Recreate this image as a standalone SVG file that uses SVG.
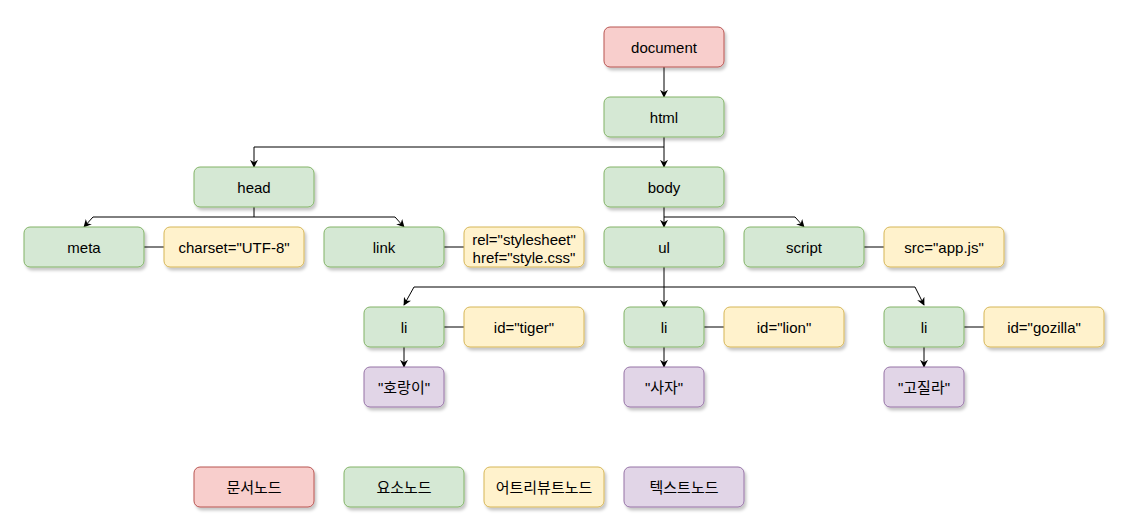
<svg xmlns="http://www.w3.org/2000/svg" width="1141" height="531" viewBox="0 0 1141 531">
<defs>
<filter id="sh" x="-10%" y="-10%" width="130%" height="140%">
<feDropShadow dx="2" dy="3" stdDeviation="1.5" flood-color="#000" flood-opacity="0.22"/>
</filter>
<marker id="ar" viewBox="0 0 10 10" refX="9" refY="5" markerWidth="8" markerHeight="8" orient="auto" markerUnits="userSpaceOnUse">
<path d="M0,0 L10,5 L0,10 L3,5 Z" fill="#000"/>
</marker>
</defs>
<style>
rect{stroke-width:1;filter:url(#sh)}
.d rect{fill:#f8cecc;stroke:#b85450}
.e rect{fill:#d5e8d4;stroke:#82b366}
.a rect{fill:#fff2cc;stroke:#d6b656}
.t rect{fill:#e1d5e7;stroke:#9673a6}
text{font-family:"Liberation Sans","Noto Sans CJK KR",Arial,sans-serif;font-size:15px;fill:#000;text-anchor:middle;dominant-baseline:central}
.c path{fill:none;stroke:#000;stroke-width:1}
.c .ar{marker-end:url(#ar)}
</style>
<g class="c" id="connectors">
<path class="ar" d="M664 67V97"/>
<path class="ar" d="M664 137V167"/>
<path class="ar" d="M664 147H254V167"/>
<path class="ar" d="M254 207V217H93L84 227"/>
<path class="ar" d="M254 217H395L404 227"/>
<path class="ar" d="M664 207V227"/>
<path class="ar" d="M664 217H795L804 227"/>
<path class="ar" d="M664 267V307"/>
<path class="ar" d="M664 287H414L404 305"/>
<path class="ar" d="M664 287H915L924 305"/>
<path class="ar" d="M404 347V367"/>
<path class="ar" d="M664 347V367"/>
<path class="ar" d="M924 347V367"/>
<path d="M144 247H164"/>
<path d="M444 247H464"/>
<path d="M864 247H884"/>
<path d="M444 327H464"/>
<path d="M704 327H724"/>
<path d="M964 327H984"/>
</g>
<g id="document" class="d"><rect x="604" y="27" width="120" height="40" rx="6"/><text x="664" y="47">document</text></g>
<g id="html" class="e"><rect x="604" y="97" width="120" height="40" rx="6"/><text x="664" y="117">html</text></g>
<g id="head" class="e"><rect x="194" y="167" width="120" height="40" rx="6"/><text x="254" y="187">head</text></g>
<g id="body" class="e"><rect x="604" y="167" width="120" height="40" rx="6"/><text x="664" y="187">body</text></g>
<g id="meta" class="e"><rect x="24" y="227" width="120" height="40" rx="6"/><text x="84" y="247">meta</text></g>
<g id="charset" class="a"><rect x="164" y="227" width="140" height="40" rx="6"/><text x="234" y="247">charset="UTF-8"</text></g>
<g id="link" class="e"><rect x="324" y="227" width="120" height="40" rx="6"/><text x="384" y="247">link</text></g>
<g id="linkattr" class="a"><rect x="464" y="227" width="120" height="40" rx="6"/><text x="524" y="239">rel="stylesheet"</text><text x="524" y="257">href="style.css"</text></g>
<g id="ul" class="e"><rect x="604" y="227" width="120" height="40" rx="6"/><text x="664" y="247">ul</text></g>
<g id="script" class="e"><rect x="744" y="227" width="120" height="40" rx="6"/><text x="804" y="247">script</text></g>
<g id="src" class="a"><rect x="884" y="227" width="120" height="40" rx="6"/><text x="944" y="247">src="app.js"</text></g>
<g id="li1" class="e"><rect x="364" y="307" width="80" height="40" rx="6"/><text x="404" y="327">li</text></g>
<g id="tiger" class="a"><rect x="464" y="307" width="120" height="40" rx="6"/><text x="524" y="327">id="tiger"</text></g>
<g id="li2" class="e"><rect x="624" y="307" width="80" height="40" rx="6"/><text x="664" y="327">li</text></g>
<g id="lion" class="a"><rect x="724" y="307" width="120" height="40" rx="6"/><text x="784" y="327">id="lion"</text></g>
<g id="li3" class="e"><rect x="884" y="307" width="80" height="40" rx="6"/><text x="924" y="327">li</text></g>
<g id="gozilla" class="a"><rect x="984" y="307" width="120" height="40" rx="6"/><text x="1044" y="327">id="gozilla"</text></g>
<g id="t1" class="t"><rect x="364" y="367" width="80" height="40" rx="6"/><text x="404" y="387">"호랑이"</text></g>
<g id="t2" class="t"><rect x="624" y="367" width="80" height="40" rx="6"/><text x="664" y="387">"사자"</text></g>
<g id="t3" class="t"><rect x="884" y="367" width="80" height="40" rx="6"/><text x="924" y="387">"고질라"</text></g>
<g id="lg1" class="d"><rect x="194" y="467" width="120" height="40" rx="6"/><text x="254" y="487">문서노드</text></g>
<g id="lg2" class="e"><rect x="344" y="467" width="120" height="40" rx="6"/><text x="404" y="487">요소노드</text></g>
<g id="lg3" class="a"><rect x="484" y="467" width="120" height="40" rx="6"/><text x="544" y="487">어트리뷰트노드</text></g>
<g id="lg4" class="t"><rect x="624" y="467" width="120" height="40" rx="6"/><text x="684" y="487">텍스트노드</text></g>
</svg>
